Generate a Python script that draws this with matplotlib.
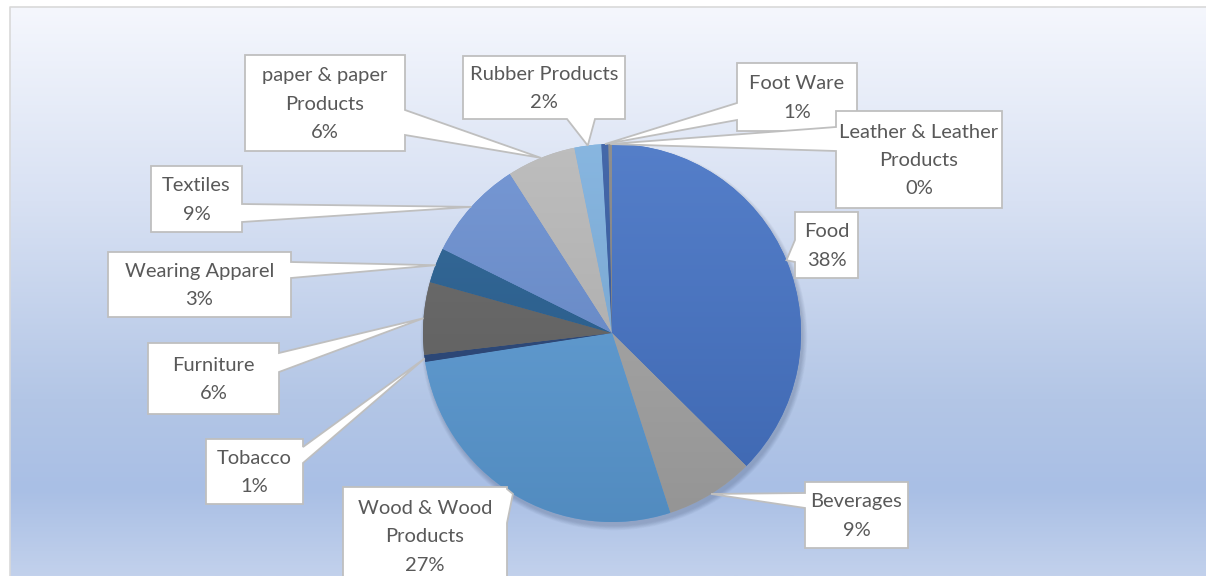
import matplotlib
matplotlib.use("Agg")
import matplotlib.pyplot as plt
import numpy as np
from matplotlib.colors import LinearSegmentedColormap, to_rgb
from matplotlib.patches import Polygon, Circle

# data (share of formal employment, %)
categories = ["Food", "Beverages", "Wood & Wood\nProducts", "Tobacco", "Furniture",
              "Wearing Apparel", "Textiles", "paper & paper\nProducts",
              "Rubber Products", "Foot Ware", "Leather & Leather\nProducts"]
shares = [37.5, 7.6, 27.6, 0.6, 6.2, 3.0, 8.6, 5.9, 2.3, 0.6, 0.3]
pct_labels = ["38%", "9%", "27%", "1%", "6%", "3%", "9%", "6%", "2%", "1%", "0%"]
colors = ["#4472c4", "#a5a5a5", "#5b9bd5", "#264478", "#636363", "#255e91",
          "#698ed0", "#b7b7b7", "#7cafdd", "#335aa1", "#848484"]

title = "Figure 5: Agro-processing Formal Employment by Sector (2017)"

# callout boxes in pixels: (x0, y0, x1, y1, side, base1, base2)
callouts = [
    (795, 212, 858, 278, "left", 240, 262),
    (805, 482, 908, 548, "left", 493, 508),
    (343, 487, 507, 585, "right", 489, 523),
    (206, 439, 303, 504, "right", 447, 463),
    (148, 343, 279, 414, "right", 353, 372),
    (108, 252, 291, 317, "right", 262, 278),
    (151, 166, 242, 232, "right", 204, 222),
    (245, 55, 405, 151, "right", 110, 135),
    (463, 56, 625, 119, "bottom", 567, 595),
    (737, 63, 857, 131, "left", 103, 120),
    (836, 111, 1002, 208, "left", 127, 151),
]

W, H = 1206, 576
cx, cy, r = 612, 333, 189

fig = plt.figure(figsize=(W / 100, H / 100), dpi=100)
fig.patch.set_facecolor("white")
ax = fig.add_axes([0, 0, 1, 1])

# chart area background
bg = LinearSegmentedColormap.from_list("bg", [(0, "#f5f7fd"), (0.34, "#d8e1f3"),
                                              (0.69, "#b3c6e6"), (0.85, "#a9bfe5"),
                                              (1.0, "#c2d1ec")])
ax.imshow(np.linspace(0, 1, 256).reshape(-1, 1), cmap=bg, aspect="auto",
          extent=[10, W, H, 7], origin="upper", zorder=0)
ax.plot([10, 10, W], [H, 7, 7], color="#d9d9d9", lw=1.2, zorder=1)

# soft shadow
for k in range(7):
    ax.add_patch(Circle((cx + 2, cy + 4), r + k * 0.7, color="#2a3a5a",
                        alpha=0.035, lw=0, zorder=1.5))

wedges, _ = ax.pie(shares, colors=colors, startangle=-90, counterclock=True,
                   center=(cx, cy), radius=r, wedgeprops=dict(linewidth=0))

grad = np.linspace(0, 1, 256).reshape(-1, 1)
for w, c in zip(wedges, colors):
    w.set_zorder(2)
    base = np.array(to_rgb(c))
    top = base + (1 - base) * 0.09
    bot = base * 0.9
    cm = LinearSegmentedColormap.from_list("g", [top, bot])
    im = ax.imshow(grad, cmap=cm, aspect="auto", origin="upper",
                   extent=[cx - r, cx + r, cy + r, cy - r], zorder=2.5)
    im.set_clip_path(w)

for w, name, pct, (x0, y0, x1, y1, side, b1, b2) in zip(wedges, categories, pct_labels, callouts):
    tm = np.deg2rad((w.theta1 + w.theta2) / 2)
    tip = (cx + r * np.cos(tm), cy + r * np.sin(tm))
    if side == "right":
        verts = [(x0, y0), (x1, y0), (x1, b1), tip, (x1, b2), (x1, y1), (x0, y1)]
    elif side == "left":
        verts = [(x0, y0), (x1, y0), (x1, y1), (x0, y1), (x0, b2), tip, (x0, b1)]
    else:
        verts = [(x0, y0), (x1, y0), (x1, y1), (b2, y1), tip, (b1, y1), (x0, y1)]
    ax.add_patch(Polygon(verts, closed=True, facecolor="white", edgecolor="#bfbfbf",
                         lw=1.3, zorder=5))
    ax.text((x0 + x1) / 2, (y0 + y1) / 2 + 1, name + "\n" + pct, ha="center", va="center",
            fontsize=14.5, color="#595959", family=["Lato", "DejaVu Sans"],
            linespacing=1.8, zorder=6)

ax.set_xlim(0, W)
ax.set_ylim(H, 0)
ax.axis("off")

fig.text(16 / W, 1.0 + 6 / H, title, ha="left", va="baseline", fontsize=20,
         fontweight="bold", family=["Liberation Serif", "DejaVu Serif"], color="black",
         zorder=10)

fig.savefig("out.png", dpi=100)
